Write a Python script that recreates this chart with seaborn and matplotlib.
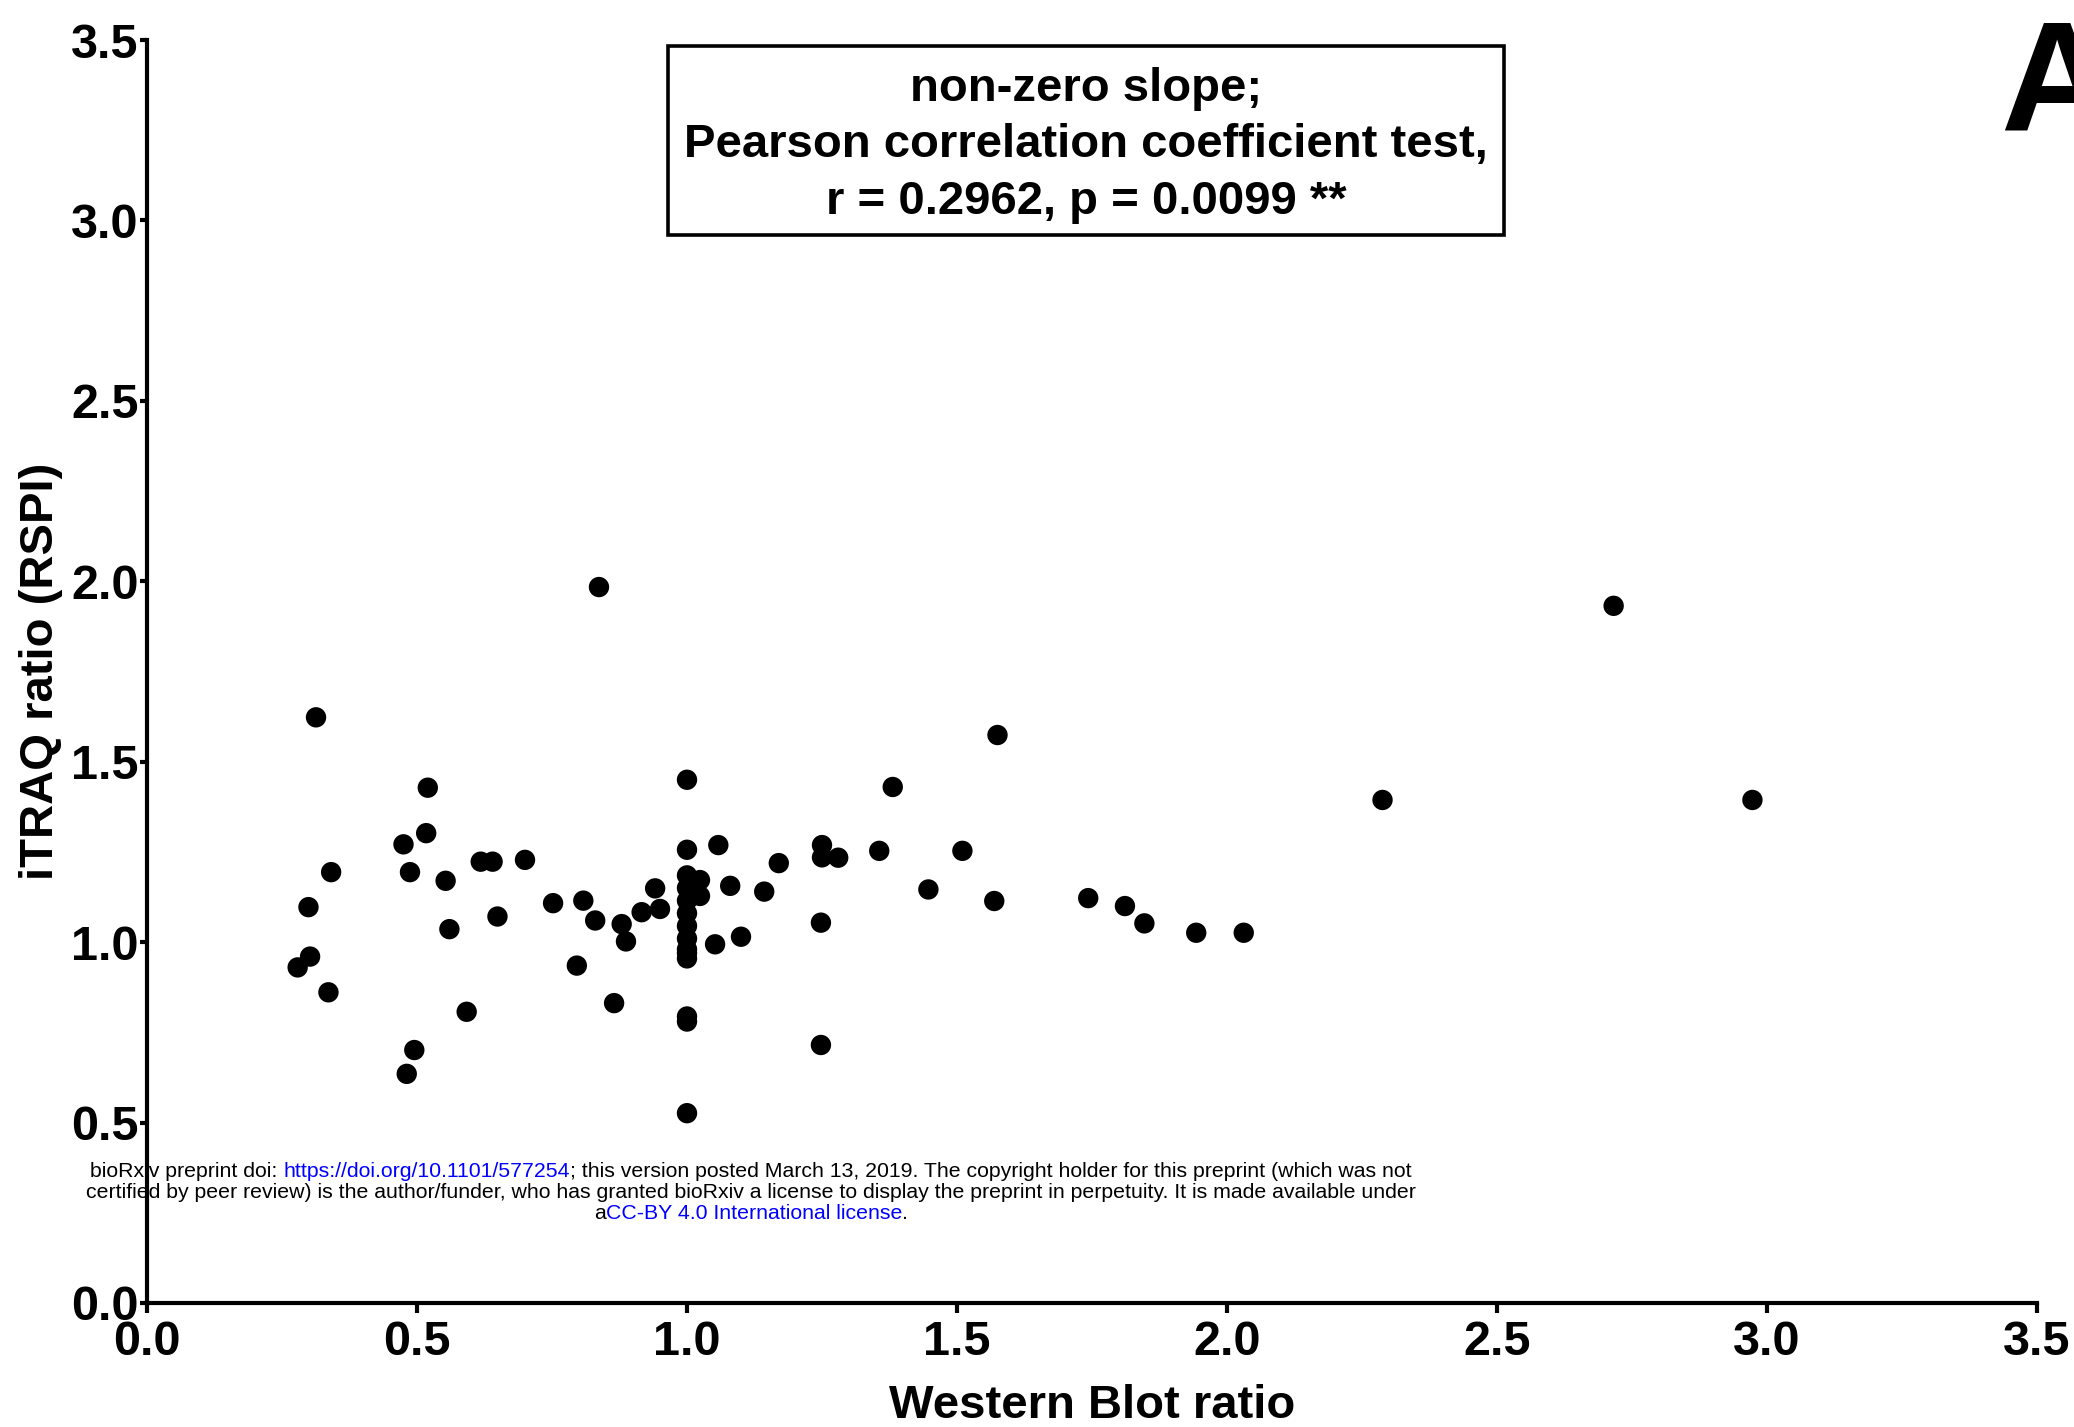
import matplotlib
matplotlib.use("Agg")
import matplotlib.pyplot as plt
from matplotlib.patches import Rectangle
import seaborn as sns
import pandas as pd

# ---- data ----
western_blot = [0.279, 0.302, 0.299, 0.313, 0.341, 0.336,
                0.475, 0.487, 0.481, 0.495, 0.517, 0.520, 0.553, 0.560, 0.592,
                0.618, 0.640, 0.649, 0.700, 0.752, 0.796, 0.808, 0.830, 0.837,
                0.865, 0.879, 0.887, 0.916, 0.941, 0.950,
                1.000, 1.000, 1.000, 1.000, 1.000, 1.000, 1.000, 1.000, 1.000, 1.000,
                1.000, 1.000, 1.000, 1.000,
                1.024, 1.024, 1.052, 1.058, 1.080, 1.100, 1.143, 1.170,
                1.250, 1.250, 1.280, 1.248, 1.248, 1.356, 1.381, 1.447, 1.510,
                1.569, 1.575, 1.743, 1.811, 1.847, 1.943, 2.031, 2.288, 2.716, 2.973]
itraq_ratio = [0.930, 0.960, 1.097, 1.623, 1.194, 0.861,
               1.271, 1.194, 0.635, 0.701, 1.302, 1.428, 1.170, 1.036, 0.807,
               1.223, 1.223, 1.071, 1.228, 1.108, 0.935, 1.115, 1.060, 1.984,
               0.831, 1.050, 1.002, 1.083, 1.149, 1.092,
               1.450, 1.256, 1.185, 1.150, 1.115, 1.080, 1.045, 1.010, 0.980, 0.955,
               0.794, 0.780, 0.526, 0.970,
               1.172, 1.128, 0.994, 1.269, 1.156, 1.015, 1.140, 1.219,
               1.269, 1.235, 1.234, 1.054, 0.715, 1.253, 1.430, 1.146, 1.253,
               1.114, 1.574, 1.122, 1.100, 1.052, 1.026, 1.026, 1.394, 1.932, 1.394]

tick_values = [0.0, 0.5, 1.0, 1.5, 2.0, 2.5, 3.0, 3.5]
tick_labels = ["0.0", "0.5", "1.0", "1.5", "2.0", "2.5", "3.0", "3.5"]
x_label = "Western Blot ratio"
y_label = "iTRAQ ratio (RSPI)"
stat_lines = ["non-zero slope;",
              "Pearson correlation coefficient test,",
              "r = 0.2962, p = 0.0099 **"]
panel_letter = "A"

df = pd.DataFrame({"wb": western_blot, "itraq": itraq_ratio})

sns.set_style("ticks")
plt.rcParams["font.family"] = ["Liberation Sans", "DejaVu Sans"]
for k in ["text.color", "axes.labelcolor", "xtick.color", "ytick.color", "axes.edgecolor"]:
    plt.rcParams[k] = "black"

W, H = 2074, 1427
fig = plt.figure(figsize=(W / 100, H / 100), dpi=100)
ax = fig.add_axes([147 / W, 124 / H, 1890 / W, 1263 / H])

sns.scatterplot(data=df, x="wb", y="itraq", color="black", s=215,
                linewidth=0, edgecolor="none", ax=ax, zorder=3)

ax.set_xlim(0, 3.5)
ax.set_ylim(0, 3.5)
ax.set_xticks(tick_values)
ax.set_yticks(tick_values)
ax.set_xticklabels(tick_labels, fontsize=35, fontweight="bold")
ax.set_yticklabels(tick_labels, fontsize=35, fontweight="bold")
ax.tick_params(axis="x", direction="out", length=7, width=3, color="black", pad=5)
ax.tick_params(axis="y", direction="out", length=5, width=3, color="black", pad=1)
for side in ["top", "right"]:
    ax.spines[side].set_visible(False)
for side in ["left", "bottom"]:
    ax.spines[side].set_linewidth(3)
    ax.spines[side].set_color("black")
ax.spines["left"].set_clip_on(False)
ax.spines["bottom"].set_clip_on(False)
ax.set_xlabel(x_label, fontsize=34, fontweight="bold", labelpad=14)
ax.set_ylabel(y_label, fontsize=34, fontweight="bold", labelpad=6)

# statistics box
bx0, by0, bx1, by1 = 668, 46, 1504, 235
fig.add_artist(Rectangle((bx0 / W, 1 - by1 / H), (bx1 - bx0) / W, (by1 - by0) / H,
                         transform=fig.transFigure, fill=False, edgecolor="black",
                         linewidth=2.6))
for line, yb in zip(stat_lines, [101, 157, 214]):
    fig.text(1086 / W, 1 - yb / H, line, ha="center", va="baseline",
             fontsize=34, fontweight="bold")

# panel letter
fig.text(2000 / W, 1 - 129 / H, panel_letter, ha="left", va="baseline",
         fontsize=112, fontweight="bold")

# bioRxiv notice (coloured link segments)
notice = [
    [("bioRxiv preprint doi: ", "black"), ("https://doi.org/10.1101/577254", "blue"),
     ("; this version posted March 13, 2019. The copyright holder for this preprint (which was not", "black")],
    [("certified by peer review) is the author/funder, who has granted bioRxiv a license to display the preprint in perpetuity. It is made available under", "black")],
    [("a", "black"), ("CC-BY 4.0 International license", "blue"), (".", "black")],
]
renderer = fig.canvas.get_renderer()
probe = fig.text(0, 0, "".join(s for s, _ in notice[1]), fontsize=10)
w10 = probe.get_window_extent(renderer).width
probe.remove()
nfs = 10 * 1339 / w10
cx = 751
for line, yc in zip(notice, [1177, 1198, 1219]):
    widths = []
    for s, c in line:
        t = fig.text(0, 0, s, fontsize=nfs)
        widths.append(t.get_window_extent(renderer).width)
        t.remove()
    total = sum(widths)
    x = cx - total / 2
    for (s, c), w in zip(line, widths):
        fig.text(x / W, 1 - yc / H, s, fontsize=nfs, color=c,
                 ha="left", va="baseline")
        x += w

fig.savefig("out.png", dpi=100, facecolor="white")
